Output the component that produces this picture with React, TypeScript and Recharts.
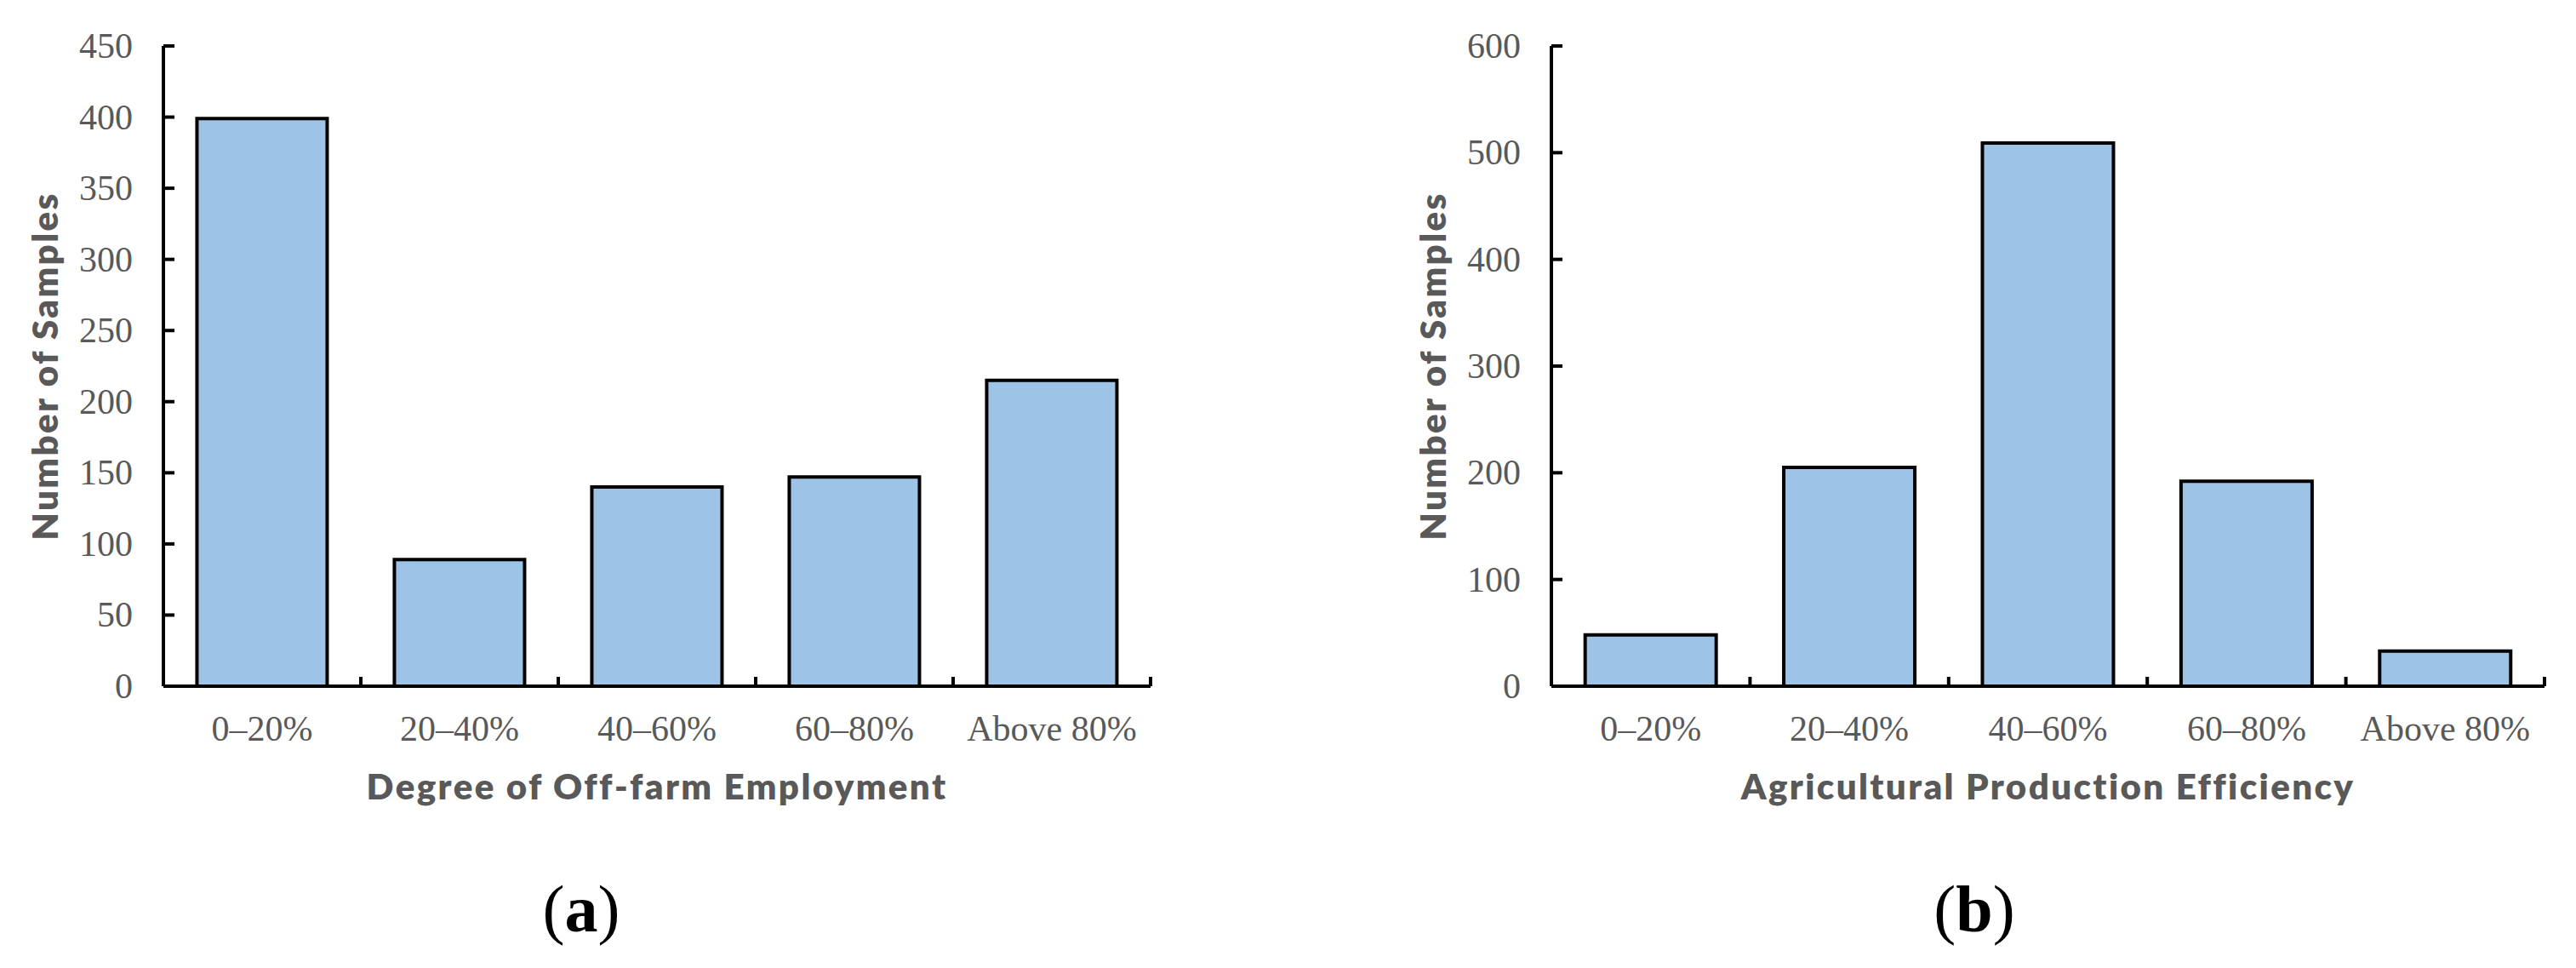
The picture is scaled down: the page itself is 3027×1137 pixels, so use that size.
import React from 'react';
import { BarChart, Bar, XAxis, YAxis, Label } from 'recharts';

const categories = ['0–20%', '20–40%', '40–60%', '60–80%', 'Above 80%'];
const offFarmCounts = [399, 89, 140, 147, 215];
const efficiencyCounts = [48, 205, 509, 192, 33];
const offFarmTicks = [0, 50, 100, 150, 200, 250, 300, 350, 400, 450];
const efficiencyTicks = [0, 100, 200, 300, 400, 500, 600];

const GREY = '#595959';
const BAR_FILL = '#9DC3E6';
const X_MARGIN = 34;
const Y_MARGIN = 36;
const tickFont = { fill: GREY, fontSize: 42, fontFamily: '"Liberation Serif", serif' };
const titleFont = { fill: GREY, fontSize: 42, fontFamily: 'Lato, sans-serif', fontWeight: 800, letterSpacing: 2.4 };

const build = (values: number[]) => categories.map((name, i) => ({ name, value: values[i] }));

// y tick: label on the left, short mark pointing into the plot
function YTick(props: any) {
  const { x, y, payload } = props;
  const axisX = x + Y_MARGIN;
  return (
    <g>
      <line x1={axisX} x2={axisX + 13} y1={y} y2={y} stroke="#000" strokeWidth={4} />
      <text x={x} y={y} textAnchor="end" dominantBaseline="central" {...tickFont}>
        {payload.value}
      </text>
    </g>
  );
}

// x tick: category label, with marks on the category boundaries pointing up
function XTick(props: any) {
  const { x, y, payload, index, width, visibleTicksCount } = props;
  const count = visibleTicksCount || categories.length;
  const band = width / count;
  const axisY = y - X_MARGIN;
  return (
    <g>
      {index > 0 && <line x1={x - band / 2} x2={x - band / 2} y1={axisY} y2={axisY - 11} stroke="#000" strokeWidth={4} />}
      {index === count - 1 && <line x1={x + band / 2} x2={x + band / 2} y1={axisY} y2={axisY - 11} stroke="#000" strokeWidth={4} />}
      <text x={x} y={y} textAnchor="middle" dominantBaseline="hanging" {...tickFont}>
        {payload.value}
      </text>
    </g>
  );
}

function YTitle({ viewBox, text, dx }: any) {
  const cx = viewBox.x + dx;
  const cy = viewBox.y + viewBox.height / 2;
  return (
    <text x={cx} y={cy} transform={`rotate(-90 ${cx} ${cy})`} textAnchor="middle" dominantBaseline="central" {...titleFont}>
      {text}
    </text>
  );
}

function XTitle({ viewBox, text }: any) {
  return (
    <text x={viewBox.x + viewBox.width / 2} y={viewBox.y + 133} textAnchor="middle" {...titleFont}>
      {text}
    </text>
  );
}

interface PanelProps {
  values: number[];
  ticks: number[];
  max: number;
  xTitle: string;
  left: number;
  width: number;
  margin: { top: number; right: number; bottom: number; left: number };
  yAxisWidth: number;
  yTitleDx: number;
}

function Panel({ values, ticks, max, xTitle, left, width, margin, yAxisWidth, yTitleDx }: PanelProps) {
  return (
    <div style={{ position: 'absolute', left, top: 0 }}>
      <BarChart width={width} height={1137} data={build(values)} margin={margin} barCategoryGap="17%">
        <XAxis
          dataKey="name"
          axisLine={{ stroke: '#000', strokeWidth: 4 }}
          tickLine={false}
          tickSize={0}
          tickMargin={X_MARGIN}
          tick={<XTick />}
          height={150}
          interval={0}
        >
          <Label content={(p: any) => <XTitle viewBox={p.viewBox} text={xTitle} />} />
        </XAxis>
        <YAxis
          domain={[0, max]}
          ticks={ticks}
          width={yAxisWidth}
          axisLine={{ stroke: '#000', strokeWidth: 4 }}
          tickLine={false}
          tickSize={0}
          tickMargin={Y_MARGIN}
          tick={<YTick />}
          interval={0}
        >
          <Label content={(p: any) => <YTitle viewBox={p.viewBox} text="Number of Samples" dx={yTitleDx} />} />
        </YAxis>
        <Bar dataKey="value" fill={BAR_FILL} stroke="#000" strokeWidth={4} isAnimationActive={false} />
      </BarChart>
    </div>
  );
}

function PanelTag({ letter, cx }: { letter: string; cx: number }) {
  return (
    <div
      style={{
        position: 'absolute',
        left: cx - 100,
        top: 1018,
        width: 200,
        textAlign: 'center',
        fontFamily: '"Liberation Serif", serif',
        fontSize: 78,
        lineHeight: '100px',
        color: '#000',
      }}
    >
      (<b>{letter}</b>)
    </div>
  );
}

export default function App() {
  return (
    <div style={{ position: 'absolute', left: 0, top: 0, width: 3027, height: 1137, background: '#fff', overflow: 'hidden' }}>
      <Panel
        values={offFarmCounts}
        ticks={offFarmTicks}
        max={450}
        xTitle="Degree of Off-farm Employment"
        left={0}
        width={1513}
        margin={{ top: 54, right: 161, bottom: 181, left: 20 }}
        yAxisWidth={172}
        yTitleDx={32}
      />
      <Panel
        values={efficiencyCounts}
        ticks={efficiencyTicks}
        max={600}
        xTitle="Agricultural Production Efficiency"
        left={1513}
        width={1514}
        margin={{ top: 54, right: 37, bottom: 181, left: 130 }}
        yAxisWidth={180}
        yTitleDx={40}
      />
      <PanelTag letter="a" cx={683} />
      <PanelTag letter="b" cx={2320} />
    </div>
  );
}
